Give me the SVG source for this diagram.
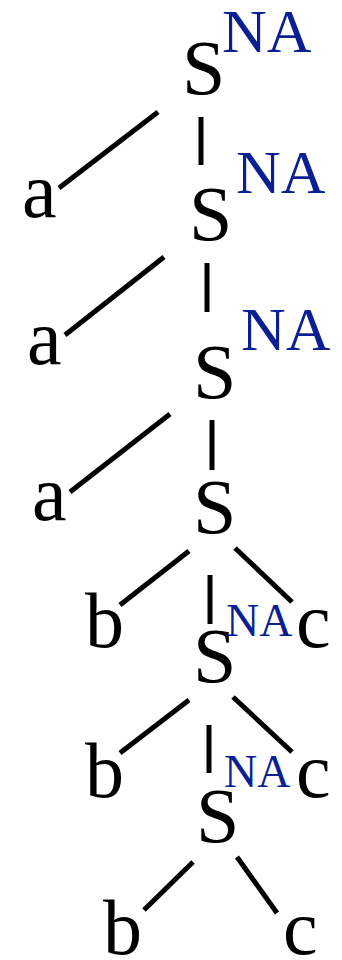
<svg xmlns="http://www.w3.org/2000/svg" width="342" height="960" viewBox="0 0 342 960">
<style>
.t{font-family:"Liberation Serif","Times New Roman",serif;font-size:78px;fill:#000}
.na{font-family:"Liberation Serif","Times New Roman",serif;font-size:62px;fill:#0a1f92}
.ns{font-family:"Liberation Serif","Times New Roman",serif;font-size:46px;fill:#0a1f92}
.e line{stroke:#000;stroke-width:5;stroke-linecap:butt}
</style>
<rect width="342" height="960" fill="#fff"/>
<g class="e" id="connectors">
<line x1="158" y1="112" x2="59" y2="188"/>
<line x1="201" y1="117" x2="201" y2="165"/>
<line x1="164" y1="257" x2="65" y2="335"/>
<line x1="207" y1="263" x2="207" y2="312"/>
<line x1="170" y1="414" x2="70" y2="492"/>
<line x1="212" y1="420" x2="212" y2="470"/>
<line x1="189" y1="551" x2="120" y2="605"/>
<line x1="210" y1="575" x2="210" y2="624"/>
<line x1="235" y1="548" x2="292" y2="602"/>
<line x1="189" y1="700" x2="120" y2="753"/>
<line x1="209" y1="725" x2="209" y2="773"/>
<line x1="233" y1="697" x2="292" y2="752"/>
<line x1="193" y1="862" x2="144" y2="910"/>
<line x1="237" y1="857" x2="277" y2="913"/>
</g>
<g id="S1"><text class="t" x="182" y="94">S</text><text class="na" x="222" y="52">NA</text></g>
<g id="a1"><text class="t" x="22" y="217">a</text></g>
<g id="S2"><text class="t" x="189" y="240">S</text><text class="na" x="236" y="193">NA</text></g>
<g id="a2"><text class="t" x="27" y="364">a</text></g>
<g id="S3"><text class="t" x="193" y="398">S</text><text class="na" x="241" y="350">NA</text></g>
<g id="a3"><text class="t" x="32" y="520">a</text></g>
<g id="S4"><text class="t" x="193" y="533">S</text></g>
<g id="b1"><text class="t" x="85" y="647">b</text></g>
<g id="c1"><text class="t" x="296" y="647">c</text></g>
<g id="S5"><text class="t" x="193" y="682">S</text><text class="ns" x="226" y="636">NA</text></g>
<g id="b2"><text class="t" x="85" y="797">b</text></g>
<g id="c2"><text class="t" x="296" y="797">c</text></g>
<g id="S6"><text class="t" x="196" y="842">S</text><text class="ns" x="224" y="787">NA</text></g>
<g id="b3"><text class="t" x="103" y="954">b</text></g>
<g id="c3"><text class="t" x="283" y="954">c</text></g>
</svg>
